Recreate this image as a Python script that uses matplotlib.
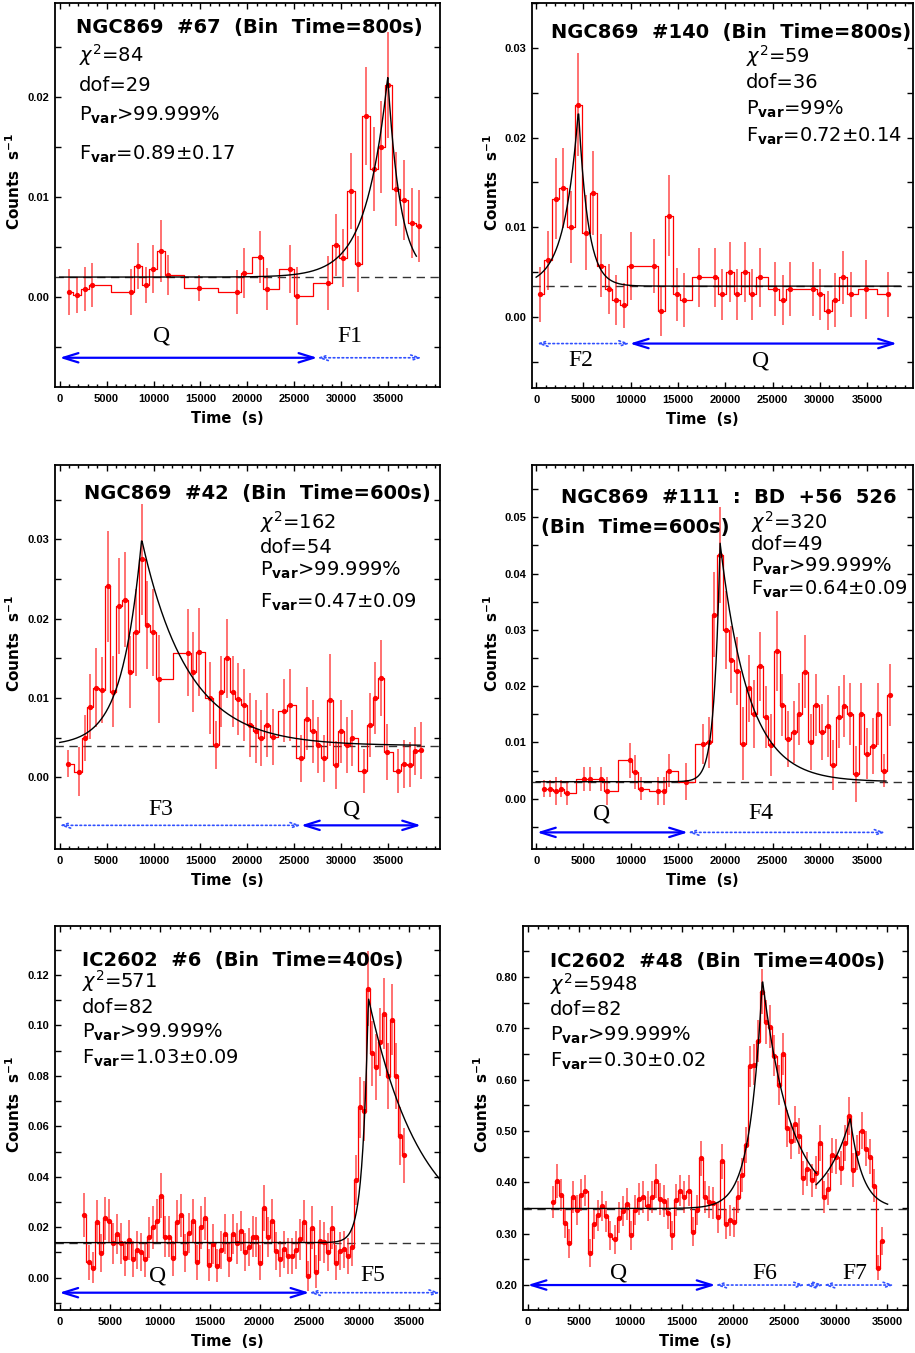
import numpy as np
import matplotlib
matplotlib.use('Agg')
import matplotlib.pyplot as plt
from matplotlib.ticker import MultipleLocator, FixedLocator, FormatStrFormatter

plt.rcParams['mathtext.fontset'] = 'dejavusans'

# ---- NGC869 #67 (800 s bins)
t67 = [1030, 1880, 2700, 3480, 7560, 8310, 9160, 9980, 10800, 11580, 14810, 18860,
       19670, 21310, 22090, 24540, 25320, 28620, 29400, 30220, 31000, 31820, 32640,
       33450, 34270, 35010, 35870, 36680, 37500, 38320]
r67 = [0.0005, 0.0002, 0.0008, 0.0012, 0.0005, 0.0031, 0.0012, 0.0028, 0.0046, 0.0022,
       0.0009, 0.0005, 0.0024, 0.0040, 0.0008, 0.0028, 0.0001, 0.0014, 0.0052, 0.0039,
       0.0106, 0.0033, 0.0181, 0.0128, 0.0150, 0.0212, 0.0108, 0.0097, 0.0074, 0.0071]
e67 = [0.0023, 0.0018, 0.0022, 0.0022, 0.0023, 0.0023, 0.0018, 0.0024, 0.0031, 0.0020,
       0.0013, 0.0022, 0.0025, 0.0026, 0.0021, 0.0024, 0.0029, 0.0027, 0.0031, 0.0029,
       0.0038, 0.0028, 0.0049, 0.0042, 0.0046, 0.0053, 0.0037, 0.0040, 0.0035, 0.0036]

# ---- NGC869 #140 (800 s bins)
t140 = [440, 1250, 2050, 2860, 3670, 4470, 5250, 6050, 6860, 7670, 8470, 9250, 10050,
        12470, 13250, 14050, 14860, 15650, 17260, 18880, 19680, 20490, 21260, 22070,
        22880, 23680, 25300, 26070, 26880, 29300, 30070, 30840, 31650, 32460, 33260,
        34840, 37260]
r140 = [0.0025, 0.0063, 0.0132, 0.0144, 0.0100, 0.0237, 0.0094, 0.0138, 0.0057, 0.0031,
        0.0019, 0.0013, 0.0057, 0.0057, 0.0007, 0.0113, 0.0025, 0.0019, 0.0044, 0.0044,
        0.0025, 0.0050, 0.0025, 0.0050, 0.0025, 0.0044, 0.0031, 0.0019, 0.0031, 0.0031,
        0.0025, 0.0007, 0.0019, 0.0044, 0.0025, 0.0031, 0.0025]
e140 = [0.0031, 0.0033, 0.0045, 0.0045, 0.0040, 0.0057, 0.0042, 0.0047, 0.0035, 0.0028,
        0.0028, 0.0025, 0.0038, 0.0030, 0.0028, 0.0045, 0.0030, 0.0030, 0.0033, 0.0033,
        0.0028, 0.0033, 0.0028, 0.0033, 0.0028, 0.0033, 0.0030, 0.0028, 0.0030, 0.0030,
        0.0028, 0.0022, 0.0030, 0.0030, 0.0025, 0.0033, 0.0025]

# ---- NGC869 #42 (600 s bins)
t42 = [890, 2100, 2700, 3230, 3910, 4510, 5110, 5720, 6320, 6930, 7530, 8130, 8740,
       9340, 9980, 10580, 13640, 14240, 14810, 16050, 16660, 17220, 17830, 18430, 19030,
       19640, 20280, 20880, 21480, 22090, 22690, 23900, 24500, 25750, 26350, 26950,
       27560, 28160, 28760, 29400, 29970, 30580, 31180, 32420, 33030, 33630, 34230,
       34840, 36080, 36680, 37290, 37890, 38490]
r42 = [0.0017, 0.0007, 0.0050, 0.0089, 0.0113, 0.0110, 0.0241, 0.0108, 0.0216, 0.0224,
       0.0133, 0.0183, 0.0275, 0.0192, 0.0183, 0.0124, 0.0157, 0.0133, 0.0158, 0.0100,
       0.0041, 0.0108, 0.0150, 0.0108, 0.0099, 0.0091, 0.0066, 0.0058, 0.0050, 0.0066,
       0.0051, 0.0084, 0.0091, 0.0024, 0.0074, 0.0058, 0.0041, 0.0024, 0.0097, 0.0016,
       0.0058, 0.0041, 0.0050, 0.0008, 0.0066, 0.0100, 0.0125, 0.0032, 0.0008, 0.0017,
       0.0016, 0.0033, 0.0034]
e42 = [0.0017, 0.0031, 0.0029, 0.0041, 0.0050, 0.0042, 0.0070, 0.0045, 0.0060, 0.0060,
       0.0045, 0.0055, 0.0070, 0.0055, 0.0055, 0.0055, 0.0055, 0.0050, 0.0055, 0.0045,
       0.0030, 0.0045, 0.0050, 0.0045, 0.0045, 0.0045, 0.0040, 0.0040, 0.0035, 0.0040,
       0.0035, 0.0040, 0.0045, 0.0030, 0.0040, 0.0040, 0.0035, 0.0030, 0.0058, 0.0030,
       0.0040, 0.0035, 0.0035, 0.0028, 0.0040, 0.0045, 0.0048, 0.0035, 0.0028, 0.0030,
       0.0028, 0.0030, 0.0036]

# ---- NGC869 #111 : BD +56 526 (600 s bins)
t111 = [860, 1490, 2090, 2680, 3280, 5070, 5670, 6860, 7460, 9880, 10470, 11070, 12860,
        13490, 14070, 15860, 17670, 18260, 18860, 19460, 20050, 20650, 21250, 21840,
        22470, 23070, 23670, 24260, 24860, 25460, 26050, 26650, 27250, 27840, 28440,
        29040, 29630, 30230, 30830, 31420, 32020, 32610, 33210, 33810, 34400, 35000,
        35600, 36190, 36790, 37390]
r111 = [0.0018, 0.0018, 0.0014, 0.0018, 0.0010, 0.0035, 0.0035, 0.0035, 0.0013, 0.0068,
        0.0047, 0.0018, 0.0013, 0.0013, 0.0050, 0.0030, 0.0097, 0.0100, 0.0327, 0.0433,
        0.0300, 0.0247, 0.0227, 0.0098, 0.0196, 0.0151, 0.0235, 0.0146, 0.0095, 0.0263,
        0.0167, 0.0106, 0.0118, 0.0150, 0.0226, 0.0101, 0.0167, 0.0118, 0.0130, 0.0060,
        0.0146, 0.0164, 0.0150, 0.0044, 0.0150, 0.0080, 0.0094, 0.0150, 0.0050, 0.0185]
e111 = [0.0015, 0.0015, 0.0025, 0.0015, 0.0022, 0.0022, 0.0022, 0.0022, 0.0025, 0.0031,
        0.0030, 0.0020, 0.0025, 0.0025, 0.0030, 0.0033, 0.0035, 0.0045, 0.0075, 0.0086,
        0.0070, 0.0060, 0.0060, 0.0065, 0.0060, 0.0060, 0.0062, 0.0055, 0.0055, 0.0071,
        0.0055, 0.0050, 0.0055, 0.0055, 0.0065, 0.0050, 0.0055, 0.0050, 0.0055, 0.0045,
        0.0055, 0.0055, 0.0055, 0.0050, 0.0055, 0.0045, 0.0050, 0.0055, 0.0030, 0.0055]

# ---- IC2602 #6 (400 s bins)
t6 = [2440, 2870, 3270, 3670, 4070, 4470, 4880, 5280, 5680, 6080, 6480, 6880, 7280,
      7680, 8080, 8480, 8880, 9280, 9690, 10090, 10490, 10890, 11290, 11690, 12090,
      12490, 12890, 13290, 13690, 14090, 14500, 14900, 15300, 15700, 16100, 16500,
      16900, 17300, 17700, 18100, 18500, 18900, 19300, 19670, 20070, 20470, 20870,
      21270, 21670, 22070, 22480, 22880, 23280, 23680, 24080, 24480, 24880, 25280,
      25680, 26080, 26480, 26880, 27290, 27690, 28090, 28490, 28890, 29290, 29690,
      30090, 30490, 30890, 31290, 31690, 32090, 32500, 32900, 33300, 33700, 34100, 34500]
r6 = [0.0248, 0.0061, 0.0040, 0.0222, 0.0099, 0.0235, 0.0226, 0.0136, 0.0173, 0.0136,
      0.0077, 0.0149, 0.0074, 0.0110, 0.0101, 0.0073, 0.0160, 0.0200, 0.0226, 0.0325,
      0.0163, 0.0163, 0.0077, 0.0222, 0.0248, 0.0097, 0.0176, 0.0226, 0.0061, 0.0200,
      0.0235, 0.0050, 0.0133, 0.0048, 0.0110, 0.0173, 0.0073, 0.0173, 0.0136, 0.0186,
      0.0103, 0.0123, 0.0163, 0.0161, 0.0059, 0.0277, 0.0161, 0.0225, 0.0107, 0.0074,
      0.0112, 0.0086, 0.0086, 0.0110, 0.0152, 0.0222, 0.0008, 0.0198, 0.0024, 0.0147,
      0.0140, 0.0103, 0.0198, 0.0059, 0.0107, 0.0112, 0.0086, 0.0122, 0.0387, 0.0675,
      0.0660, 0.1146, 0.0889, 0.0836, 0.0935, 0.1047, 0.0800, 0.1023, 0.0800, 0.0561,
      0.0485]
e6 = [0.0086, 0.0070, 0.0060, 0.0085, 0.0075, 0.0085, 0.0085, 0.0080, 0.0080, 0.0080,
      0.0070, 0.0080, 0.0070, 0.0075, 0.0075, 0.0070, 0.0080, 0.0085, 0.0085, 0.0090,
      0.0080, 0.0080, 0.0070, 0.0085, 0.0085, 0.0075, 0.0080, 0.0085, 0.0070, 0.0085,
      0.0085, 0.0065, 0.0080, 0.0065, 0.0075, 0.0080, 0.0070, 0.0080, 0.0080, 0.0080,
      0.0075, 0.0075, 0.0080, 0.0080, 0.0070, 0.0090, 0.0080, 0.0085, 0.0075, 0.0070,
      0.0075, 0.0070, 0.0070, 0.0075, 0.0080, 0.0085, 0.0060, 0.0085, 0.0065, 0.0080,
      0.0080, 0.0075, 0.0085, 0.0070, 0.0075, 0.0075, 0.0070, 0.0075, 0.0100, 0.0120,
      0.0120, 0.0150, 0.0130, 0.0130, 0.0135, 0.0140, 0.0130, 0.0140, 0.0130, 0.0115,
      0.0110]

# ---- IC2602 #48 (400 s bins)
t48 = [2500, 2900, 3290, 3680, 4070, 4460, 4850, 5240, 5630, 6080, 6470, 6870, 7260,
       7650, 8040, 8490, 8880, 9270, 9700, 10090, 10480, 10870, 11260, 11680, 12070,
       12530, 12920, 13310, 13700, 14090, 14480, 14870, 15260, 15680, 16070, 16460,
       16920, 17310, 17700, 18090, 18540, 18900, 19290, 19680, 20070, 20460, 20920,
       21280, 21670, 22060, 22480, 22870, 23260, 23650, 24040, 24470, 24920, 25310,
       25700, 26090, 26480, 26870, 27260, 27720, 28110, 28500, 28890, 29280, 29670,
       30090, 30520, 30910, 31300, 31690, 32110, 32530, 32920, 33310, 33700, 34100, 34520]
r48 = [0.361, 0.403, 0.375, 0.320, 0.281, 0.372, 0.346, 0.376, 0.384, 0.262, 0.318,
       0.336, 0.354, 0.334, 0.297, 0.289, 0.331, 0.344, 0.358, 0.297, 0.346, 0.367,
       0.371, 0.354, 0.372, 0.403, 0.367, 0.363, 0.340, 0.297, 0.365, 0.384, 0.371,
       0.384, 0.304, 0.346, 0.447, 0.372, 0.362, 0.359, 0.332, 0.441, 0.319, 0.326,
       0.323, 0.372, 0.414, 0.472, 0.626, 0.629, 0.675, 0.771, 0.712, 0.703, 0.646,
       0.589, 0.650, 0.505, 0.481, 0.513, 0.490, 0.409, 0.426, 0.404, 0.419, 0.476,
       0.372, 0.387, 0.453, 0.450, 0.427, 0.476, 0.529, 0.424, 0.458, 0.500, 0.465,
       0.450, 0.393, 0.234, 0.286]
e48 = [0.031, 0.033, 0.031, 0.029, 0.028, 0.031, 0.030, 0.031, 0.031, 0.027, 0.029,
       0.030, 0.030, 0.030, 0.028, 0.028, 0.030, 0.030, 0.031, 0.028, 0.030, 0.031,
       0.031, 0.030, 0.031, 0.033, 0.031, 0.031, 0.030, 0.028, 0.031, 0.031, 0.031,
       0.031, 0.028, 0.030, 0.034, 0.031, 0.031, 0.031, 0.030, 0.034, 0.029, 0.030,
       0.029, 0.031, 0.033, 0.035, 0.040, 0.040, 0.041, 0.044, 0.042, 0.042, 0.040,
       0.039, 0.041, 0.036, 0.035, 0.036, 0.035, 0.033, 0.033, 0.032, 0.033, 0.035,
       0.031, 0.032, 0.034, 0.034, 0.033, 0.035, 0.037, 0.033, 0.034, 0.036, 0.034,
       0.034, 0.032, 0.025, 0.027]


def flare(t, base, tp, amp, tr, td):
    return np.where(t < tp, base + amp * np.exp((t - tp) / tr),
                    base + amp * np.exp(-(t - tp) / td))


def span(ax, x0, x1, y, solid):
    if solid:
        props = dict(arrowstyle='<->,head_length=0.9,head_width=0.28', color='#0000ff',
                     lw=1.6, shrinkA=0, shrinkB=0, mutation_scale=12)
    else:
        props = dict(arrowstyle='<->,head_length=0.6,head_width=0.2', color='#3050ff',
                     lw=1.2, ls=':', shrinkA=0, shrinkB=0, mutation_scale=10)
    ax.annotate('', xy=(x1, y), xytext=(x0, y), arrowprops=props)


def panel(rect, t, r, e, xlim, ylim, ymaj, ymin, title, stats, pos):
    ax = fig.add_axes(rect)
    ax.errorbar(t, r, yerr=e, fmt='none', ecolor='red', alpha=0.6, elinewidth=1.3,
                capsize=0, zorder=2)
    ax.plot(t, r, color='red', lw=0.9, drawstyle='steps-mid', zorder=3)
    ax.plot(t, r, 'o', color='red', ms=3.8, mec='none', zorder=4)
    ax.set_xlim(*xlim)
    ax.set_ylim(*ylim)
    ax.xaxis.set_major_locator(FixedLocator([0, 5000, 10000, 15000, 20000, 25000, 30000, 35000]))
    ax.xaxis.set_minor_locator(MultipleLocator(1000))
    ax.yaxis.set_major_locator(MultipleLocator(ymaj))
    ax.yaxis.set_minor_locator(MultipleLocator(ymin))
    ax.yaxis.set_major_formatter(FormatStrFormatter('%.2f'))
    ax.tick_params(which='both', direction='in', top=True, right=True, width=1.0)
    ax.tick_params(which='major', length=4.2)
    ax.tick_params(axis='y', which='minor', length=4.2)
    ax.tick_params(axis='x', which='minor', length=2.5)
    ax.tick_params(axis='x', pad=5)
    ax.tick_params(axis='y', pad=4)
    for lab in ax.get_xticklabels() + ax.get_yticklabels():
        lab.set_fontfamily('Liberation Sans')
        lab.set_fontweight('bold')
        lab.set_fontsize(8)
    for s in ax.spines.values():
        s.set_linewidth(1.3)
    ax.text(0.447, -0.082, 'Time  (s)', transform=ax.transAxes, ha='center', va='center',
            fontsize=10.5, fontweight='bold')
    ax.text(-0.107, 0.535, r'Counts  s$^{\mathbf{-1}}$', transform=ax.transAxes,
            rotation=90, ha='center', va='center', fontsize=11, fontweight='bold')
    for txt, x, y, ha in title:
        ax.text(x, y, txt, transform=ax.transAxes, ha=ha, va='baseline',
                fontsize=14, fontweight='bold')
    for txt, y in zip(stats, pos[1]):
        ax.text(pos[0], y, txt, transform=ax.transAxes, ha='left', va='baseline', fontsize=14)
    return ax


def stats_text(chi, dof, pvar, fvar):
    return [r'$\chi^2$=' + chi, 'dof=' + dof, r'P$_{\mathbf{var}}$' + pvar,
            r'F$_{\mathbf{var}}$=' + fvar]


def base_line(ax, y):
    ax.axhline(y, color='#333333', lw=1.0, ls=(0, (6, 4)), zorder=1)


def fit_line(ax, t0, t1, *par):
    tt = np.linspace(t0, t1, 600)
    ax.plot(tt, flare(tt, *par), color='black', lw=1.0, zorder=5)


def region_label(ax, txt, x, y):
    ax.text(x, y, txt, ha='center', va='center', fontsize=17, family='Liberation Serif')


W, H = 915, 1353
fig = plt.figure(figsize=(W / 100, H / 100), dpi=100)


def rect(l, r, top, bot):
    return [l / W, 1 - bot / H, (r - l) / W, (bot - top) / H]


# panel 1
ax = panel(rect(55, 440, 3, 387), t67, r67, e67, (-497, 40518), (-0.00898, 0.02938), 0.01, 0.005,
           [('NGC869  #67  (Bin  Time=800s)', 0.505, 0.923, 'center')],
           stats_text('84', '29', '>99.999%', '0.89±0.17'),
           (0.062, [0.847, 0.772, 0.693, 0.591]))
base_line(ax, 0.0020)
fit_line(ax, 0, 38000, 0.0020, 34950, 0.0200, 2300, 1350)
span(ax, 0, 27450, -0.00606, True)
span(ax, 27450, 38565, -0.00606, False)
region_label(ax, 'Q', 10866, -0.0039)
region_label(ax, 'F1', 30930, -0.0039)

# panel 2
ax = panel(rect(532, 913, 3, 388), t140, r140, e140, (-439, 39860), (-0.00794, 0.03503), 0.01, 0.005,
           [('NGC869  #140  (Bin  Time=800s)', 0.522, 0.908, 'center')],
           stats_text('59', '36', '=99%', '0.72±0.14'),
           (0.562, [0.845, 0.778, 0.711, 0.640]))
base_line(ax, 0.00343)
fit_line(ax, 0, 38500, 0.00343, 4474, 0.0197, 1500, 1000)
span(ax, 90, 9910, -0.00298, False)
span(ax, 9910, 38160, -0.00298, True)
region_label(ax, 'F2', 4754, -0.00492)
region_label(ax, 'Q', 23772, -0.00492)

# panel 3
ax = panel(rect(55, 440, 465, 849), t42, r42, e42, (-497, 40518), (-0.00902, 0.03936), 0.01, 0.005,
           [('NGC869  #42  (Bin  Time=600s)', 0.525, 0.911, 'center')],
           stats_text('162', '54', '>99.999%', '0.47±0.09'),
           (0.532, [0.835, 0.772, 0.712, 0.628]))
base_line(ax, 0.0040)
fit_line(ax, 0, 38400, 0.0040, 8736, 0.026, 2100, 4900)
span(ax, 0, 25710, -0.00604, False)
span(ax, 25710, 38494, -0.00604, True)
region_label(ax, 'F3', 10795, -0.00407)
region_label(ax, 'Q', 31108, -0.00407)

# panel 4
ax = panel(rect(532, 913, 465, 849), t111, r111, e111, (-439, 39860), (-0.00893, 0.0593), 0.01, 0.005,
           [('NGC869  #111  :  BD  +56  526', 0.516, 0.902, 'center'),
            ('(Bin  Time=600s)', 0.024, 0.822, 'left')],
           stats_text('320', '49', '>99.999%', '0.64±0.09'),
           (0.575, [0.833, 0.779, 0.721, 0.662]))
base_line(ax, 0.00302)
fit_line(ax, 0, 37000, 0.00302, 19456, 0.0424, 620, 3000)
span(ax, 90, 16053, -0.00598, True)
span(ax, 16053, 36930, -0.00598, False)
region_label(ax, 'Q', 6930, -0.00266)
region_label(ax, 'F4', 23772, -0.00266)

# panel 5
ax = panel(rect(55, 440, 926, 1310), t6, r6, e6, (-500, 38076), (-0.0128, 0.1394), 0.02, 0.01,
           [('IC2602  #6  (Bin  Time=400s)', 0.069, 0.897, 'left')],
           stats_text('571', '82', '>99.999%', '1.03±0.09'),
           (0.069, [0.838, 0.773, 0.708, 0.642]))
base_line(ax, 0.0139)
fit_line(ax, -500, 38076, 0.0139, 30900, 0.097, 580, 5300)
span(ax, -60, 24983, -0.00594, True)
span(ax, 24983, 38076, -0.00594, False)
region_label(ax, 'Q', 9753, 0.0007)
region_label(ax, 'F5', 31296, 0.0007)

# panel 6
ax = panel(rect(523, 908, 926, 1310), t48, r48, e48, (-455, 37057), (0.1514, 0.899), 0.10, 0.05,
           [('IC2602  #48  (Bin  Time=400s)', 0.070, 0.892, 'left')],
           stats_text('5948', '82', '>99.999%', '0.30±0.02'),
           (0.070, [0.832, 0.768, 0.701, 0.634]))
base_line(ax, 0.349)
fit_line(ax, 0, 28110, 0.349, 22870, 0.446, 1200, 2800)
fit_line(ax, 28110, 35070, 0.349, 31427, 0.175, 2500, 1200)
span(ax, 0, 18300, 0.200, True)
span(ax, 18300, 27000, 0.200, False)
span(ax, 27000, 28850, 0.200, False)
span(ax, 28850, 35700, 0.200, False)
region_label(ax, 'Q', 8816, 0.2227)
region_label(ax, 'F6', 23131, 0.2228)
region_label(ax, 'F7', 31915, 0.2228)

fig.savefig('out.png', dpi=100)
